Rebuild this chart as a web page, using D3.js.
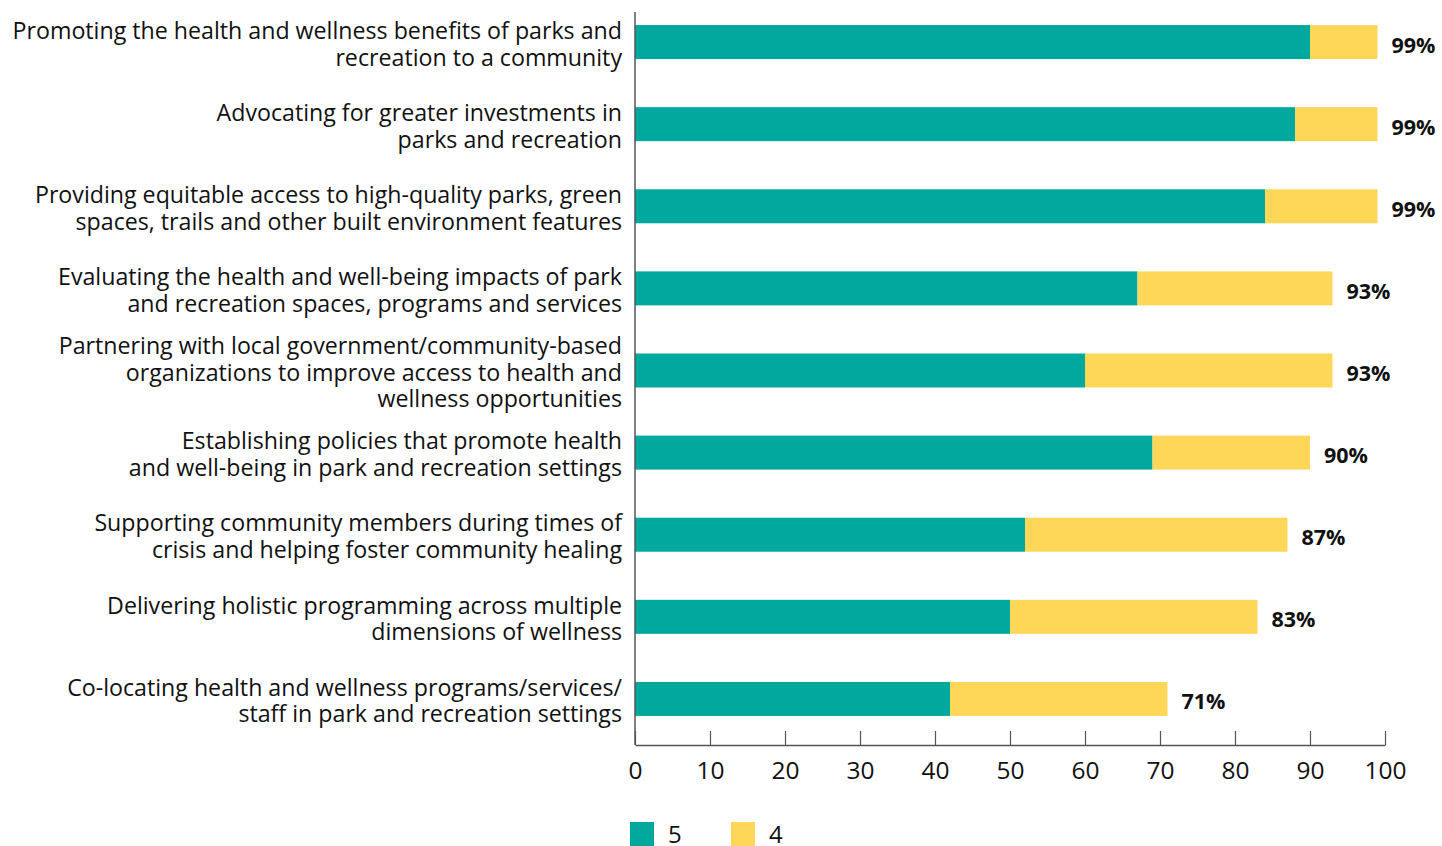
<!DOCTYPE html>
<html><head><meta charset="utf-8">
<script src="https://cdn.jsdelivr.net/npm/d3@7"></script>
<style>body{margin:0;background:#fff;} svg{display:block;}</style>
</head><body>
<svg id="chart" width="1442" height="846"></svg>
<script>
const categories = [
  ["Promoting the health and wellness benefits of parks and", "recreation to a community"],
  ["Advocating for greater investments in", "parks and recreation"],
  ["Providing equitable access to high-quality parks, green", "spaces, trails and other built environment features"],
  ["Evaluating the health and well-being impacts of park", "and recreation spaces, programs and services"],
  ["Partnering with local government/community-based", "organizations to improve access to health and", "wellness opportunities"],
  ["Establishing policies that promote health", "and well-being in park and recreation settings"],
  ["Supporting community members during times of", "crisis and helping foster community healing"],
  ["Delivering holistic programming across multiple", "dimensions of wellness"],
  ["Co-locating health and wellness programs/services/", "staff in park and recreation settings"]
];
const values5 = [90, 88, 84, 67, 60, 69, 52, 50, 42];
const values4 = [9, 11, 15, 26, 33, 21, 35, 33, 29];
const totalLabels = ["99%", "99%", "99%", "93%", "93%", "90%", "87%", "83%", "71%"];
const xTicks = [0, 10, 20, 30, 40, 50, 60, 70, 80, 90, 100];
const seriesNames = ["5", "4"];
const colors = ["#00A89D", "#FFD758"];

const svg = d3.select("#chart");
const font = "'Open Sans', Lato, sans-serif";
const x = d3.scaleLinear().domain([0, 100]).range([635, 1385]);
const idx = d3.range(categories.length);
const y = d3.scaleBand().domain(idx).range([1, 740]).paddingInner(0.586).paddingOuter(0.293);

const stackData = idx.map(i => ({i, a: values5[i], b: values4[i]}));
const stack = d3.stack().keys(["a", "b"])(stackData);

svg.append("g").selectAll("g").data(stack).join("g")
  .attr("fill", (d, k) => colors[k])
  .selectAll("rect").data(d => d).join("rect")
  .attr("x", d => x(d[0]))
  .attr("width", d => x(d[1]) - x(d[0]))
  .attr("y", d => y(d.data.i))
  .attr("height", y.bandwidth());

// value labels
svg.append("g").selectAll("text").data(idx).join("text")
  .attr("x", i => x(values5[i] + values4[i]) + 14)
  .attr("y", i => y(i) + y.bandwidth() / 2 + 3)
  .attr("dy", "0.35em")
  .attr("font-family", font).attr("font-weight", 700).attr("font-size", 21.5)
  .attr("fill", "#111")
  .text(i => totalLabels[i]);

// category labels
const lh = 26.8;
const lab = svg.append("g").selectAll("text").data(idx).join("text")
  .attr("text-anchor", "end")
  .attr("font-family", font).attr("font-size", 23.2).attr("fill", "#111")
  .attr("x", 622)
  .attr("y", i => y(i) + y.bandwidth() / 2 + 2 - (categories[i].length - 1) * lh / 2);
lab.selectAll("tspan").data(i => categories[i]).join("tspan")
  .attr("x", 622)
  .attr("dy", (d, k) => k === 0 ? "0.35em" : lh)
  .text(d => d);

// axes
svg.append("line").attr("x1", 635).attr("x2", 635).attr("y1", 12).attr("y2", 745)
  .attr("stroke", "#555").attr("stroke-width", 1.5);
const xAxis = d3.axisBottom(x).tickValues(xTicks).tickSize(-14).tickPadding(26).tickSizeOuter(0);
const gx = svg.append("g").attr("transform", "translate(0,745)").call(xAxis);
gx.select(".domain").attr("stroke", "#555").attr("stroke-width", 1.5);
gx.selectAll(".tick line").attr("stroke", "#555").attr("stroke-width", 1.2);
gx.selectAll(".tick text").attr("font-family", font).attr("font-size", 24.5).attr("fill", "#111").attr("dy", "0.35em").attr("y", 25);

// legend
const lg = svg.append("g").selectAll("g").data(seriesNames).join("g")
  .attr("transform", (d, k) => `translate(${630 + k * 101},822)`);
lg.append("rect").attr("width", 24).attr("height", 24).attr("fill", (d, k) => colors[k]);
lg.append("text").attr("x", 38).attr("y", 13).attr("dy", "0.35em")
  .attr("font-family", font).attr("font-size", 24).attr("fill", "#111").text(d => d);
</script>
</body></html>
